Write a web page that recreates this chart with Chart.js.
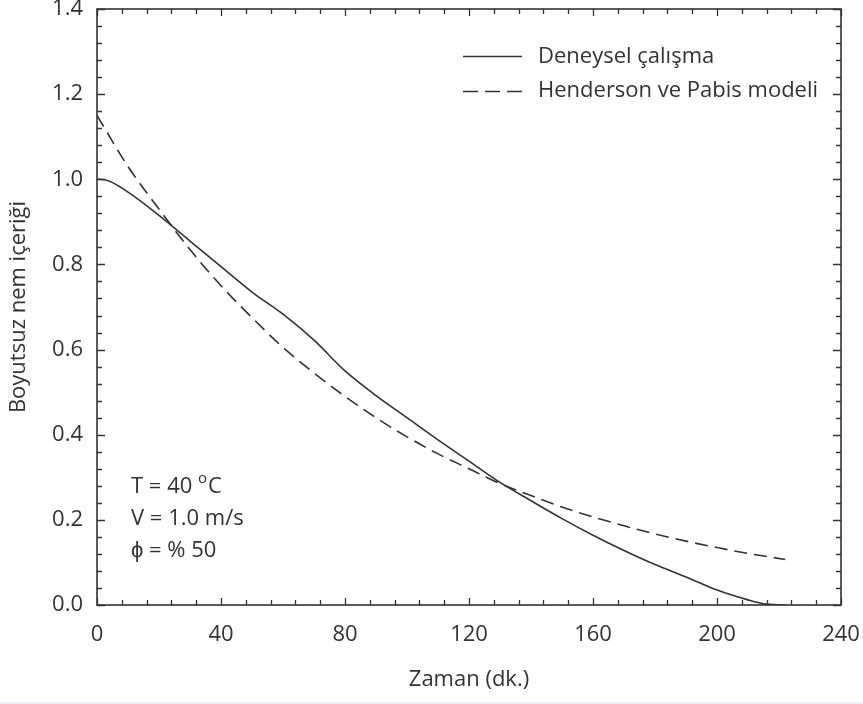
<!DOCTYPE html>
<html>
<head>
<meta charset="utf-8">
<script src="https://cdn.jsdelivr.net/npm/chart.js@4/dist/chart.umd.min.js"></script>
<style>
  html, body { margin: 0; padding: 0; background: #fff; }
  #wrap { position: relative; width: 863px; height: 704px; }
  #strip { position: absolute; left: 0; bottom: 0; width: 863px; height: 2px; background: #edf0f5; }
</style>
</head>
<body>
<div id="wrap">
  <canvas id="chart" width="863" height="704"></canvas>
  <div id="strip"></div>
</div>
<script>
// Deneysel çalışma (okunan değerler)
const expTime = [0, 2.5, 10, 20, 30, 40, 50, 60, 70, 80, 90, 100, 110, 120, 130, 140, 150, 160, 170, 180, 190, 200, 210, 215, 222];
const expMR = [1.0, 0.999, 0.97, 0.915, 0.855, 0.795, 0.735, 0.683, 0.622, 0.55, 0.492, 0.44, 0.388, 0.338, 0.288, 0.245, 0.203, 0.164, 0.128, 0.095, 0.066, 0.035, 0.012, 0.003, 0.0];

// Henderson ve Pabis modeli
const modelTime = [0, 10, 20, 30, 40, 50, 60, 70, 80, 90, 100, 110, 120, 130, 140, 150, 160, 170, 180, 190, 200, 210, 222];
const modelMR = [1.15, 1.03, 0.93, 0.835, 0.75, 0.675, 0.605, 0.545, 0.49, 0.44, 0.395, 0.355, 0.32, 0.285, 0.257, 0.23, 0.207, 0.186, 0.167, 0.15, 0.135, 0.121, 0.107];

const xTicks = [0, 40, 80, 120, 160, 200, 240];
const yTicks = [0.0, 0.2, 0.4, 0.6, 0.8, 1.0, 1.2, 1.4];
const seriesLabels = ["Deneysel çalışma", "Henderson ve Pabis modeli"];
const infoLines = ["T = 40 ", "V = 1.0 m/s", "ϕ = % 50"];

const FONT = "'Open Sans', sans-serif";
const FS = 22;
const INK = "#333333";

function toPoints(xs, ys) {
  return xs.map((x, i) => ({ x: x, y: ys[i] }));
}

// kutu, içe dönük çentikler, lejant ve not
const framePlugin = {
  id: "frame",
  afterDraw(chart) {
    const ctx = chart.ctx;
    const a = chart.chartArea;
    const sx = chart.scales.x;
    const sy = chart.scales.y;
    ctx.save();
    ctx.strokeStyle = INK;
    ctx.lineWidth = 1.6;
    ctx.strokeRect(a.left, a.top, a.right - a.left, a.bottom - a.top);

    ctx.lineWidth = 1.3;
    ctx.beginPath();
    // x: her 8 dk'da bir, 40'ta büyük
    for (let i = 0; i <= 30; i++) {
      const px = Math.round(sx.getPixelForValue(i * 8)) + 0.5;
      const len = i % 5 === 0 ? 7 : 5;
      ctx.moveTo(px, a.bottom); ctx.lineTo(px, a.bottom - len);
      ctx.moveTo(px, a.top); ctx.lineTo(px, a.top + len);
    }
    // y: 0.04 aralık, 0.2'de büyük
    for (let i = 0; i <= 35; i++) {
      const py = Math.round(sy.getPixelForValue(i * 0.04)) + 0.5;
      const len = i % 5 === 0 ? 8 : 5;
      ctx.moveTo(a.left, py); ctx.lineTo(a.left + len, py);
      ctx.moveTo(a.right, py); ctx.lineTo(a.right - len, py);
    }
    ctx.stroke();

    // lejant
    ctx.fillStyle = INK;
    ctx.font = FS + "px " + FONT;
    ctx.textBaseline = "middle";
    ctx.textAlign = "left";
    ctx.lineWidth = 1.5;
    ctx.beginPath();
    ctx.setLineDash([]);
    ctx.moveTo(463, 56.5); ctx.lineTo(522, 56.5);
    ctx.stroke();
    ctx.beginPath();
    ctx.setLineDash([15, 7]);
    ctx.moveTo(463, 91.5); ctx.lineTo(522, 91.5);
    ctx.stroke();
    ctx.setLineDash([]);
    ctx.fillText(seriesLabels[0], 538, 57);
    ctx.fillText(seriesLabels[1], 538, 91);

    // deney koşulları
    const tx = 131;
    ctx.fillText(infoLines[0], tx, 487);
    let w = ctx.measureText(infoLines[0]).width;
    ctx.font = "15px " + FONT;
    ctx.fillText("o", tx + w, 479);
    const wo = ctx.measureText("o").width;
    ctx.font = FS + "px " + FONT;
    ctx.fillText("C", tx + w + wo + 1, 487);
    ctx.fillText(infoLines[1], tx, 519);
    ctx.fillText(infoLines[2], tx, 551);
    ctx.restore();
  }
};

new Chart(document.getElementById("chart"), {
  type: "line",
  data: {
    datasets: [
      {
        label: seriesLabels[0],
        data: toPoints(expTime, expMR),
        borderColor: INK,
        borderWidth: 1.6,
        pointRadius: 0,
        cubicInterpolationMode: "monotone",
      },
      {
        label: seriesLabels[1],
        data: toPoints(modelTime, modelMR),
        borderColor: INK,
        borderWidth: 1.6,
        borderDash: [13, 7],
        pointRadius: 0,
        cubicInterpolationMode: "monotone",
      },
    ],
  },
  options: {
    responsive: false,
    animation: false,
    layout: { padding: { left: 0, top: 9, right: 22, bottom: 0 } },
    plugins: { legend: { display: false }, tooltip: { enabled: false } },
    scales: {
      x: {
        type: "linear",
        min: 0,
        max: 240,
        afterBuildTicks: (s) => { s.ticks = xTicks.map((v) => ({ value: v })); },
        afterFit: (s) => { s.height = 99; s.paddingLeft = 0; s.paddingRight = 0; },
        grid: { display: false, drawTicks: false },
        border: { display: false },
        ticks: { color: INK, font: { family: FONT, size: FS }, padding: 17, maxRotation: 0 },
        title: { display: true, text: "Zaman (dk.)", color: INK, font: { family: FONT, size: FS }, padding: { top: 0, bottom: 11 } },
      },
      y: {
        min: 0,
        max: 1.4,
        afterBuildTicks: (s) => { s.ticks = yTicks.map((v) => ({ value: v })); },
        afterFit: (s) => { s.width = 97; s.paddingTop = 0; s.paddingBottom = 0; },
        grid: { display: false, drawTicks: false },
        border: { display: false },
        ticks: { color: INK, font: { family: FONT, size: FS }, padding: 14, callback: (v) => v.toFixed(1) },
        title: { display: true, text: "Boyutsuz nem içeriği", color: INK, font: { family: FONT, size: FS }, padding: { top: 6, bottom: 0 } },
      },
    },
  },
  plugins: [framePlugin],
});
</script>
</body>
</html>
